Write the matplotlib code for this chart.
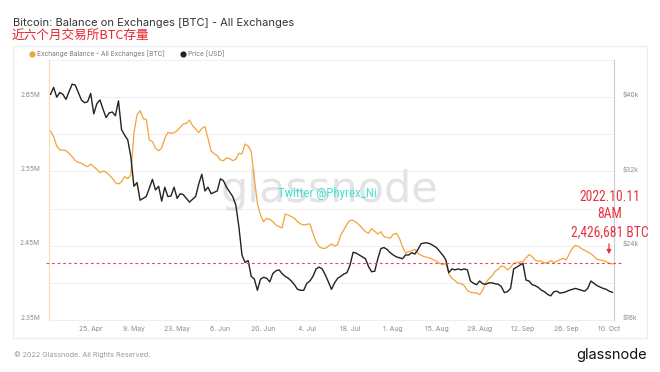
import matplotlib
matplotlib.use("Agg")
import matplotlib.pyplot as plt
import matplotlib.transforms as mtransforms
from matplotlib import font_manager
from matplotlib.patches import Rectangle, FancyArrowPatch
from matplotlib.lines import Line2D
import numpy as np
import pandas as pd

# ---------------- data ----------------
start_date = "2022-04-12"
balance_m = [
    2.6044, 2.5968, 2.5842, 2.5788, 2.5788, 2.5779, 2.5744, 2.5699, 2.5645, 2.5622,
    2.5613, 2.5582, 2.5564, 2.5600, 2.5564, 2.5528, 2.5483, 2.5506, 2.5488, 2.5452,
    2.5407, 2.5349, 2.5331, 2.5362, 2.5429, 2.5403, 2.5452, 2.6013, 2.6259, 2.6318,
    2.6210, 2.6201, 2.5923, 2.5901, 2.5811, 2.5779, 2.5815, 2.5945, 2.6026, 2.6013,
    2.6022, 2.6049, 2.6093, 2.6138, 2.6147, 2.6192, 2.6116, 2.6071, 2.6022, 2.6080,
    2.6102, 2.5945, 2.5775, 2.5739, 2.5712, 2.5654, 2.5645, 2.5681, 2.5672, 2.5645,
    2.5663, 2.5744, 2.5735, 2.5869, 2.5842, 2.5766, 2.5407, 2.5071, 2.4914, 2.4824,
    2.4869, 2.4855, 2.4824, 2.4779, 2.4757, 2.4739, 2.4927, 2.4914, 2.4891, 2.4869,
    2.4824, 2.4793, 2.4779, 2.4788, 2.4793, 2.4667, 2.4555, 2.4487, 2.4465, 2.4465,
    2.4494, 2.4523, 2.4496, 2.4514, 2.4644, 2.4712, 2.4792, 2.4842, 2.4842, 2.4815,
    2.4779, 2.4734, 2.4689, 2.4667, 2.4730, 2.4694, 2.4658, 2.4689, 2.4622, 2.4613,
    2.4600, 2.4653, 2.4667, 2.4600, 2.4487, 2.4398, 2.4420, 2.4434, 2.4451, 2.4398,
    2.4371, 2.4353, 2.4344, 2.4330, 2.4312, 2.4290, 2.4263, 2.4245, 2.4263, 2.4120,
    2.4061, 2.4030, 2.3994, 2.3990, 2.3963, 2.3898, 2.3873, 2.3868, 2.3864, 2.3841,
    2.3904, 2.4003, 2.4057, 2.4093, 2.4156, 2.4182, 2.4227, 2.4218, 2.4173, 2.4209,
    2.4263, 2.4272, 2.4281, 2.4285, 2.4335, 2.4380, 2.4353, 2.4303, 2.4294, 2.4290,
    2.4268, 2.4272, 2.4299, 2.4276, 2.4290, 2.4312, 2.4330, 2.4308, 2.4389, 2.4465,
    2.4505, 2.4492, 2.4460, 2.4438, 2.4416, 2.4393, 2.4357, 2.4317, 2.4308, 2.4299,
    2.4285, 2.4263, 2.4254,
]
price_k = [
    40.3, 41.05, 40.0, 40.5, 40.3, 39.76, 40.6, 41.4, 41.3, 40.5,
    39.7, 39.4, 39.5, 40.4, 38.2, 39.3, 39.7, 38.7, 37.8, 38.3,
    38.4, 38.0, 39.6, 36.5, 35.9, 35.4, 33.6, 30.4, 30.8, 28.9,
    29.1, 29.3, 30.2, 31.15, 30.0, 30.4, 28.8, 30.3, 29.3, 29.35,
    30.3, 29.1, 29.6, 29.5, 29.1, 28.7, 29.0, 29.3, 30.65, 31.7,
    29.9, 30.3, 29.6, 29.75, 29.9, 31.2, 31.0, 30.3, 29.8, 29.3,
    28.4, 26.05, 23.0, 22.2, 22.4, 20.7, 20.4, 19.2, 20.4, 20.6,
    20.5, 20.1, 21.0, 21.3, 21.4, 21.0, 20.7, 20.5, 20.2, 19.8,
    19.3, 19.2, 19.2, 19.95, 20.2, 20.7, 21.5, 21.7, 21.5, 20.85,
    20.1, 19.3, 20.0, 20.5, 20.7, 20.95, 21.1, 21.9, 23.3, 23.2,
    23.0, 22.8, 22.6, 21.75, 21.2, 21.25, 22.6, 23.7, 23.8, 23.6,
    23.25, 23.0, 22.8, 22.7, 22.6, 23.0, 23.0, 23.25, 23.1, 23.6,
    24.2, 24.3, 24.3, 24.2, 24.0, 23.8, 23.4, 23.0, 22.5, 21.1,
    21.5, 21.4, 21.5, 21.4, 21.5, 21.4, 20.2, 19.95, 19.8, 20.2,
    19.9, 19.85, 20.0, 20.0, 19.9, 19.85, 19.6, 18.95, 19.05, 19.4,
    21.5, 21.7, 21.9, 22.1, 20.3, 20.2, 19.8, 19.7, 19.5, 19.2,
    19.05, 18.75, 18.6, 19.05, 19.1, 18.9, 18.95, 19.05, 19.2, 19.3,
    19.4, 19.3, 19.2, 19.1, 19.4, 20.2, 19.95, 19.7, 19.55, 19.4,
    19.3, 19.1, 18.98,
]
ref_balance_m = 2.426681
left_ticks = [2.35, 2.45, 2.55, 2.65]
left_tick_labels = ["2.35M", "2.45M", "2.55M", "2.65M"]
right_ticks = [16, 24, 32, 40]
right_tick_labels = ["$16k", "$24k", "$32k", "$40k"]
x_tick_start = "2022-04-25"
n_x_ticks = 13

title = "Bitcoin: Balance on Exchanges [BTC] - All Exchanges"
subtitle = "近六个月交易所BTC存量"
legend_labels = ["Exchange Balance - All Exchanges [BTC]", "Price [USD]"]
annot_lines = ["2022.10.11", "8AM", "2,426,681 BTC"]
footer = "© 2022 Glassnode. All Rights Reserved."
brand = "glassnode"
twitter = "Twitter @Phyrex_Ni"

# ---------------- fonts ----------------
avail = {f.name for f in font_manager.fontManager.ttflist}
base_font = "Inter" if "Inter" in avail else "DejaVu Sans"
narrow_font = None
for cand in ["Liberation Sans Narrow", "DejaVu Sans Condensed", "Roboto Condensed"]:
    if cand in avail:
        narrow_font = cand
        break
plt.rcParams["font.family"] = [base_font, "DejaVu Sans"]

dates = pd.date_range(start_date, periods=len(balance_m), freq="D")
balance = np.array(balance_m)
price = np.array(price_k)

W, H = 660, 372
fig = plt.figure(figsize=(W / 100, H / 100), dpi=100)
fig.patch.set_facecolor("white")


def fx(px):
    return px / W


def fy(py):
    return 1 - py / H


# card border
card = Rectangle((fx(13), fy(338)), fx(647) - fx(13), fy(46) - fy(338),
                 transform=fig.transFigure, facecolor="none",
                 edgecolor="#ececec", linewidth=0.8, zorder=-5)
fig.add_artist(card)

ax = fig.add_axes([fx(49), fy(320), fx(614) - fx(49), fy(60) - fy(320)])
ax.set_facecolor("none")
ax2 = ax.twinx()

ORANGE = "#f3a33a"
BLACK = "#222222"

ax.plot(dates, balance, color=ORANGE, lw=0.9, zorder=3)
ax2.plot(dates, price, color=BLACK, lw=1.0, zorder=3)

ax.set_ylim(2.35, 2.70)
ax2.set_ylim(16, 44)
ax.set_xlim(pd.Timestamp(start_date) - pd.Timedelta(hours=12),
            dates[-1] + pd.Timedelta(hours=12))

# grid
grid_vals = np.arange(2.40, 2.70, 0.05)
for g in grid_vals:
    ax.axhline(g, color="#eeeeee", lw=0.6, zorder=0)

ax.set_yticks(left_ticks)
ax.set_yticklabels(left_tick_labels)
ax2.set_yticks(right_ticks)
ax2.set_yticklabels(right_tick_labels)

xt = pd.date_range(x_tick_start, periods=n_x_ticks, freq="14D")
ax.set_xticks(xt)
ax.set_xticklabels([f"{d.day}. {d.strftime('%b')}" for d in xt])

ax.tick_params(axis="y", length=0, pad=6.5, labelsize=4.7, labelcolor="#8a8a8a")
ax2.tick_params(axis="y", length=0, pad=6, labelsize=4.7, labelcolor="#8a8a8a")
ax.tick_params(axis="x", length=0, pad=4.5, labelsize=4.9, labelcolor="#8a8a8a")

off = mtransforms.ScaledTranslation(0, 3 / 100, fig.dpi_scale_trans)
for lab in ax.get_yticklabels() + ax2.get_yticklabels():
    lab.set_transform(lab.get_transform() + off)

for a in (ax, ax2):
    a.spines["top"].set_visible(False)
ax.spines["left"].set_color("#f9dcb6")
ax.spines["left"].set_linewidth(0.8)
ax.spines["right"].set_visible(False)
ax2.spines["left"].set_visible(False)
ax2.spines["right"].set_color("#cccccc")
ax2.spines["right"].set_linewidth(0.8)
ax.spines["bottom"].set_color("#eeeeee")
ax2.spines["bottom"].set_visible(False)

# watermark
ax.text(0.497, 0.50, "glassnode", transform=ax.transAxes, fontsize=31,
        color="#e3e3e3", ha="center", va="center", zorder=1,
        family="DejaVu Sans")
ax.text(0.493, 0.485, twitter, transform=ax.transAxes, fontsize=9.3,
        color="#44e0d2", ha="center", va="center", zorder=2,
        family=narrow_font or base_font)

# reference line
blend = mtransforms.blended_transform_factory(fig.transFigure, ax.transData)
fig.add_artist(Line2D([fx(46), fx(623)], [ref_balance_m, ref_balance_m], transform=blend,
                      color="#f04458", lw=0.8, ls=(0, (2.5, 2.5)), zorder=4))

# annotation
afont = narrow_font or base_font
asize = 9.8 if narrow_font else 7.6
for txt, py in zip(annot_lines, [197, 214, 232]):
    fig.text(fx(610), fy(py), txt, color="#e8323f", fontsize=asize,
             ha="center", va="center", family=afont)
fig.add_artist(FancyArrowPatch(
    (fx(609), fy(241)), (fx(609), fy(257)), transform=fig.transFigure,
    arrowstyle="-|>,head_length=2.5,head_width=1.3", color="#e8323f", lw=0.9))

# titles
fig.text(fx(13), fy(23), title, fontsize=8.0, color="#333333", va="center", ha="left")
fig.text(fx(12), fy(36), subtitle, fontsize=9.1, color="#e8222b", va="center", ha="left",
         family=["Noto Sans CJK SC", "DejaVu Sans"])

# legend
fig.add_artist(Line2D([fx(32)], [fy(54)], transform=fig.transFigure, marker="o",
                      markersize=3.4, color=ORANGE, lw=0))
fig.text(fx(37), fy(54), legend_labels[0], fontsize=4.7, color="#777777", va="center", ha="left")
fig.add_artist(Line2D([fx(183)], [fy(54)], transform=fig.transFigure, marker="o",
                      markersize=3.4, color=BLACK, lw=0))
fig.text(fx(188), fy(54), legend_labels[1], fontsize=4.7, color="#777777", va="center", ha="left")

# footer
fig.text(fx(14), fy(355), footer, fontsize=5.2, color="#999999", va="center", ha="left")
fig.text(fx(647), fy(355), brand, fontsize=10.5, color="#111111", va="center", ha="right")

fig.savefig("out.png", dpi=100, facecolor="white")
